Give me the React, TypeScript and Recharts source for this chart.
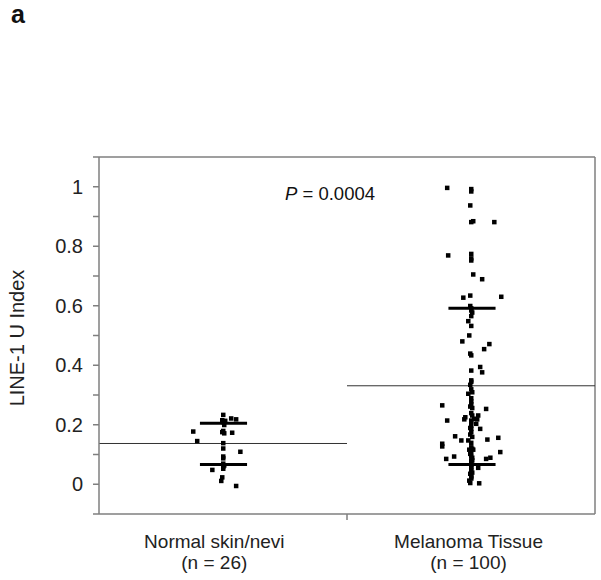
import React from "react";
import {
  ScatterChart,
  Scatter,
  XAxis,
  YAxis,
  ReferenceLine,
} from "recharts";

// group labels and summary lines
const categories = ["Normal skin/nevi", "Melanoma Tissue"];
const counts = ["(n = 26)", "(n = 100)"];
const labelPos = [0.465, 1.49];
const groupCenters = [0.502, 1.504];
const upperBars = [0.205, 0.592];
const lowerBars = [0.066, 0.066];
const meanLines = [0.137, 0.331];

const yTicks = [-0.1, 0, 0.1, 0.2, 0.3, 0.4, 0.5, 0.6, 0.7, 0.8, 0.9, 1, 1.1];

// Normal skin/nevi, n = 26
const normalX = [
  0.5, 0.532, 0.552, 0.496, 0.508, 0.5, 0.379, 0.496, 0.504, 0.536, 0.395, 0.5, 0.5,
  0.569, 0.5, 0.5, 0.5, 0.504, 0.5, 0.456, 0.496, 0.492, 0.552, 0.504, 0.5, 0.5,
];
const normalY = [
  0.234, 0.222, 0.219, 0.216, 0.214, 0.21, 0.178, 0.176, 0.172, 0.174, 0.146, 0.139, 0.121,
  0.11, 0.094, 0.088, 0.07, 0.064, 0.053, 0.049, 0.024, 0.012, -0.005, 0.2, 0.18, 0.06,
];

// Melanoma tissue, n = 100
const melanomaX = [
  1.403, 1.5, 1.5, 1.496, 1.5, 1.508, 1.593, 1.407, 1.5, 1.5,
  1.508, 1.544, 1.468, 1.496, 1.621, 1.5, 1.504, 1.5, 1.488, 1.5,
  1.492, 1.464, 1.573, 1.552, 1.5, 1.5, 1.536, 1.544, 1.5, 1.496,
  1.488, 1.5, 1.5, 1.383, 1.496, 1.504, 1.56, 1.476, 1.472, 1.504,
  1.512, 1.528, 1.524, 1.403, 1.5, 1.5, 1.5, 1.52, 1.536, 1.5,
  1.435, 1.46, 1.488, 1.565, 1.609, 1.383, 1.383, 1.492, 1.508, 1.5,
  1.496, 1.617, 1.431, 1.399, 1.56, 1.577, 1.5, 1.504, 1.5, 1.528,
  1.5, 1.496, 1.5, 1.492, 1.532, 1.5, 1.5, 1.504, 1.5, 1.5,
  1.504, 1.5, 1.496, 1.5, 1.504, 1.496, 1.5, 1.5, 1.504, 1.5,
  1.5, 1.496, 1.5, 1.496, 1.5, 1.5, 1.504, 1.496, 1.5, 1.5,
];
const melanomaY = [
  0.997, 0.993, 0.985, 0.938, 0.882, 0.885, 0.882, 0.77, 0.775, 0.753,
  0.706, 0.69, 0.628, 0.635, 0.631, 0.592, 0.578, 0.566, 0.549, 0.533,
  0.501, 0.481, 0.472, 0.455, 0.434, 0.383, 0.395, 0.377, 0.35, 0.335,
  0.305, 0.29, 0.279, 0.266, 0.262, 0.257, 0.254, 0.226, 0.219, 0.232,
  0.221, 0.232, 0.219, 0.215, 0.21, 0.198, 0.187, 0.204, 0.187, 0.176,
  0.162, 0.148, 0.148, 0.151, 0.157, 0.137, 0.128, 0.117, 0.117, 0.109,
  0.103, 0.109, 0.094, 0.086, 0.086, 0.09, 0.081, 0.081, 0.067, 0.056,
  0.047, 0.036, 0.025, 0.013, 0.004, 0.02, 0.125, 0.12, 0.06, 0.055,
  0.04, 0.03, 0.005, 0.14, 0.16, 0.168, 0.24, 0.27, 0.31, 0.32,
  0.345, 0.44, 0.585, 0.6, 0.76, 0.095, 0.09, 0.19, 0.215, 0.075,
];

const normalData = normalX.map((x, i) => ({ x, y: normalY[i] }));
const melanomaData = melanomaX.map((x, i) => ({ x, y: melanomaY[i] }));

const FONT = "Arial, 'Liberation Sans', sans-serif";
const AXIS = "#7f7f7f";

const SquareDot = (props: any) => {
  const { cx, cy } = props;
  if (cx == null || cy == null) return null;
  return <rect x={cx - 2} y={cy - 2} width={4.5} height={4.5} fill="#000" />;
};

const XTick = (props: any) => {
  const { x, payload } = props;
  const idx = labelPos.indexOf(payload.value);
  if (idx < 0) {
    return <line x1={x} y1={514} x2={x} y2={520} stroke={AXIS} strokeWidth={1.5} />;
  }
  return (
    <g fontFamily={FONT} fontSize={19} fill="#222">
      <text x={x} y={548} textAnchor="middle">{categories[idx]}</text>
      <text x={x} y={569} textAnchor="middle">{counts[idx]}</text>
    </g>
  );
};

const yFormat = (v: number) => {
  const t = Math.round(v * 10);
  return t >= 0 && t % 2 === 0 ? String(t / 10) : "";
};

const App = () => {
  return (
    <div style={{ position: "absolute", left: 0, top: 0, width: 601, height: 580, background: "#fff" }}>
      <ScatterChart
        width={601}
        height={580}
        margin={{ top: 157, right: 6, bottom: 0, left: 0 }}
      >
        <text x={11} y={23} fontFamily={FONT} fontSize={25} fontWeight="bold" fill="#111">
          a
        </text>
        <XAxis
          type="number"
          dataKey="x"
          domain={[0, 2]}
          ticks={[labelPos[0], 1, labelPos[1]]}
          tick={<XTick />}
          tickLine={false}
          axisLine={{ stroke: AXIS, strokeWidth: 1.5 }}
          height={66}
          interval={0}
        />
        <YAxis
          type="number"
          dataKey="y"
          domain={[-0.1, 1.1]}
          ticks={yTicks}
          interval={0}
          tickFormatter={yFormat}
          width={99}
          tickSize={6}
          tickMargin={10}
          tickLine={{ stroke: AXIS, strokeWidth: 1.5 }}
          axisLine={{ stroke: AXIS, strokeWidth: 1.5 }}
          tick={{ fontFamily: FONT, fontSize: 20, fill: "#222" }}
          label={{
            content: () => (
              <text
                x={17}
                y={338}
                transform="rotate(-90 17 338)"
                textAnchor="middle"
                dominantBaseline="central"
                fontFamily={FONT}
                fontSize={20}
                fill="#222"
              >
                LINE-1 U Index
              </text>
            ),
          }}
        />
        {/* box: top and right borders */}
        <ReferenceLine y={1.1} stroke={AXIS} strokeWidth={1.5} />
        <ReferenceLine x={2} stroke={AXIS} strokeWidth={1.5} />

        {/* group means (thin) */}
        {meanLines.map((m, i) => (
          <ReferenceLine
            key={`mean-${i}`}
            segment={[{ x: i, y: m }, { x: i + 1, y: m }]}
            stroke="#333"
            strokeWidth={1}
          />
        ))}
        {/* thick bars */}
        {groupCenters.map((c, i) => (
          <ReferenceLine
            key={`up-${i}`}
            segment={[{ x: c - 0.095, y: upperBars[i] }, { x: c + 0.095, y: upperBars[i] }]}
            stroke="#000"
            strokeWidth={3}
          />
        ))}
        {groupCenters.map((c, i) => (
          <ReferenceLine
            key={`low-${i}`}
            segment={[{ x: c - 0.095, y: lowerBars[i] }, { x: c + 0.095, y: lowerBars[i] }]}
            stroke="#000"
            strokeWidth={3}
          />
        ))}

        <Scatter data={normalData} shape={<SquareDot />} isAnimationActive={false} />
        <Scatter data={melanomaData} shape={<SquareDot />} isAnimationActive={false} />

        <text x={285} y={200} fontFamily={FONT} fontSize={18.5} fill="#111">
          <tspan fontStyle="italic">P</tspan>
          <tspan> = 0.0004</tspan>
        </text>
      </ScatterChart>
    </div>
  );
};

export default App;
